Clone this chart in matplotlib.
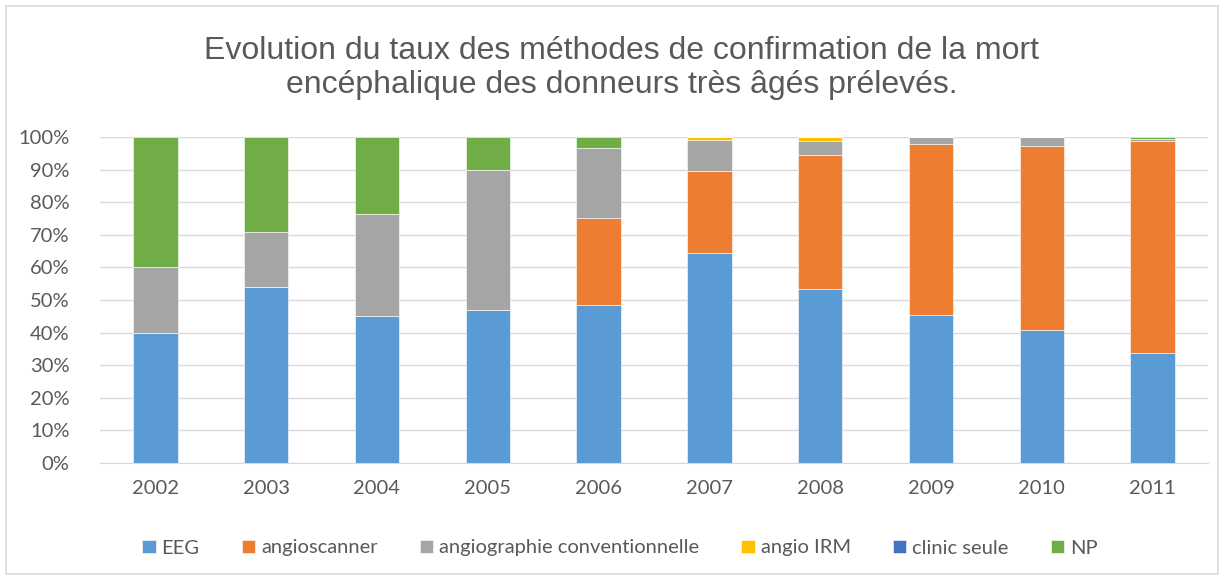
import matplotlib.pyplot as plt
import numpy as np
from matplotlib.patches import Rectangle
from matplotlib.ticker import PercentFormatter

annees = ['2002', '2003', '2004', '2005', '2006', '2007', '2008', '2009', '2010', '2011']

# parts en %
eeg = [40, 54, 45.1, 46.9, 48.5, 64.4, 53.4, 45.4, 40.8, 33.7]
angioscanner = [0, 0, 0, 0, 26.7, 25.2, 41.1, 52.5, 56.4, 65.1]
angiographie = [20, 17, 31.2, 43, 21.4, 9.5, 4.2, 2.1, 2.8, 0.6]
angio_irm = [0, 0, 0, 0, 0, 0.9, 1.2, 0, 0, 0]
clinic_seule = [0, 0, 0, 0, 0, 0, 0, 0, 0, 0]
np_ = [40, 29, 23.7, 10.1, 3.4, 0, 0.1, 0, 0, 0.6]

series = [
    ('EEG', eeg, '#5B9BD5'),
    ('angioscanner', angioscanner, '#ED7D31'),
    ('angiographie conventionnelle', angiographie, '#A5A5A5'),
    ('angio IRM', angio_irm, '#FFC000'),
    ('clinic seule', clinic_seule, '#4472C4'),
    ('NP', np_, '#70AD47'),
]

plt.rcParams['font.family'] = ['Lato', 'DejaVu Sans']

fig = plt.figure(figsize=(12.25, 5.78), dpi=100)
ax = fig.add_axes([100/1225, 1 - 463/578, 1108/1225, 326/578])

x = np.arange(len(annees))
bas = np.zeros(len(annees))
for nom, vals, couleur in series:
    vals = np.array(vals)
    ax.bar(x, vals, 0.40, bottom=bas, color=couleur, label=nom,
           edgecolor='white', linewidth=0.4, zorder=3)
    bas += vals

ax.set_xlim(-0.5, len(annees) - 0.5)
ax.set_ylim(0, 100)
ax.set_yticks(range(0, 101, 10))
ax.yaxis.set_major_formatter(PercentFormatter(decimals=0))
ax.set_xticks(x)
ax.set_xticklabels(annees)
ax.tick_params(axis='both', length=0, labelsize=14.5, labelcolor='#595959')
ax.tick_params(axis='y', pad=22)
ax.tick_params(axis='x', pad=12)
ax.grid(axis='y', color='#d9d9d9', linewidth=1, zorder=0)
for s in ['top', 'right', 'left']:
    ax.spines[s].set_visible(False)
ax.spines['bottom'].set_color('#d9d9d9')

fig.text(622/1225, 1 - 68/578,
         'Evolution du taux des méthodes de confirmation de la mort\nencéphalique des donneurs très âgés prélevés.',
         ha='center', va='center', fontsize=23, color='#595959', linespacing=1.15,
         family=['Liberation Sans', 'DejaVu Sans'])

fig.legend(*ax.get_legend_handles_labels(), loc='center', bbox_to_anchor=(620/1225, 1 - 548/578), ncol=6,
           frameon=False, fontsize=14.5, labelcolor='#595959',
           handlelength=0.65, handleheight=0.65, handletextpad=0.3, columnspacing=2.1)

fig.patches.append(Rectangle((6/1225, 4/578), 1212/1225, 568/578, transform=fig.transFigure,
                             fill=False, edgecolor='#d9d9d9', linewidth=1.2))

fig.savefig('out.png', dpi=100)
